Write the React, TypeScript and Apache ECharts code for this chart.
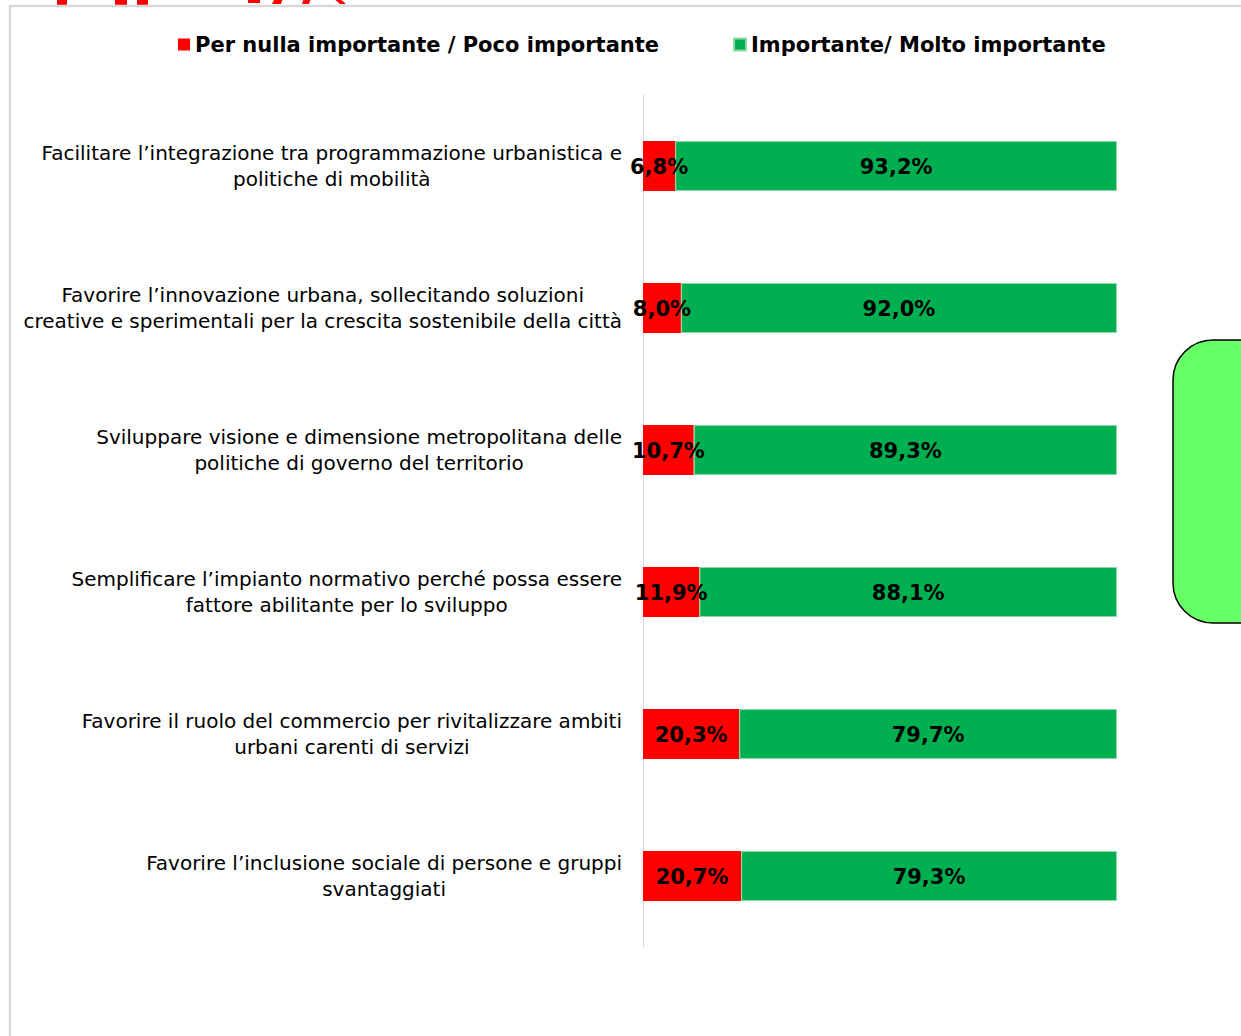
import React, { useEffect, useRef } from "react";
import * as echarts from "echarts";

const categories = [
  "Facilitare l’integrazione tra programmazione urbanistica e\npolitiche di mobilità",
  "Favorire l’innovazione urbana, sollecitando soluzioni\ncreative e sperimentali per la crescita sostenibile della città",
  "Sviluppare visione e dimensione metropolitana delle\npolitiche di governo del territorio",
  "Semplificare l’impianto normativo perché possa essere\nfattore abilitante per lo sviluppo",
  "Favorire il ruolo del commercio per rivitalizzare ambiti\nurbani carenti di servizi",
  "Favorire l’inclusione sociale di persone e gruppi\nsvantaggiati",
];
const seriesNames = ["Per nulla importante / Poco importante", "Importante/ Molto importante"];
const lowValues = [6.8, 8.0, 10.7, 11.9, 20.3, 20.7];
const highValues = [93.2, 92.0, 89.3, 88.1, 79.7, 79.3];
const colors = ["#ff0000", "#00b050"];

const FONT = "DejaVu Sans, Liberation Sans, Arial, sans-serif";

export default function App() {
  const ref = useRef<HTMLDivElement>(null);
  useEffect(() => {
    if (!ref.current) return;
    const chart = echarts.init(ref.current, null, { renderer: "svg" });
    const fmt = (p: any) => p.value.toFixed(1).replace(".", ",") + "%";
    const labelStyle = {
      show: true,
      position: "inside",
      offset: [0, 1],
      formatter: fmt,
      color: "#000",
      fontSize: 21,
      fontWeight: "bold",
      fontFamily: FONT,
    };
    chart.setOption({
      animation: false,
      backgroundColor: "#ffffff",
      textStyle: { fontFamily: FONT },
      legend: {
        top: 29,
        left: 173,
        itemWidth: 12,
        itemHeight: 12,
        itemGap: 74,
        icon: "rect",
        data: seriesNames,
        textStyle: { fontSize: 21, fontWeight: "bold", color: "#000", fontFamily: FONT },
      },
      grid: { left: 643, right: 124, top: 95, bottom: 89, containLabel: false },
      xAxis: {
        type: "value",
        min: 0,
        max: 100,
        show: false,
      },
      yAxis: {
        type: "category",
        inverse: true,
        data: categories,
        axisLine: { show: true, lineStyle: { color: "#d9d9d9", width: 1 } },
        axisTick: { show: false },
        axisLabel: {
          margin: 21,
          align: "right",
          formatter: (v: string) => v.split("\n").map((l) => "{c|" + l + "}").join("\n"),
          rich: {
            c: { align: "center", fontSize: 20, color: "#000", lineHeight: 26, fontFamily: FONT },
          },
        },
      },
      series: [
        {
          name: seriesNames[0],
          type: "bar",
          stack: "s",
          barWidth: 50,
          data: lowValues,
          itemStyle: { color: colors[0] },
          label: labelStyle,
        },
        {
          name: seriesNames[1],
          type: "bar",
          stack: "s",
          barWidth: 50,
          data: highValues,
          itemStyle: { color: colors[1], borderColor: "#8fd9a8", borderWidth: 1 },
          label: labelStyle,
        },
      ],
      graphic: [
        { type: "rect", shape: { x: 57, y: -2, width: 10, height: 7 }, style: { fill: "#ff0000" } },
        { type: "rect", shape: { x: 115, y: -2, width: 12, height: 7 }, style: { fill: "#ff0000" } },
        { type: "rect", shape: { x: 137, y: -2, width: 11, height: 7 }, style: { fill: "#ff0000" } },
        { type: "rect", shape: { x: 248, y: -2, width: 12, height: 5 }, style: { fill: "#ff0000" } },
        { type: "polygon", shape: { points: [[275, -2], [283, -2], [281, 4], [272, 4]] }, style: { fill: "#ff0000" } },
        { type: "polygon", shape: { points: [[304, -2], [311, -2], [309, 4], [302, 4]] }, style: { fill: "#ff0000" } },
        { type: "polygon", shape: { points: [[333, -2], [339, -2], [346, 4], [340, 4]] }, style: { fill: "#ff0000" } },
        {
          type: "rect",
          shape: { x: 10, y: 6, width: 1300, height: 1100 },
          style: { fill: "none", stroke: "#d9d9d9", lineWidth: 2.5 },
        },
        {
          type: "rect",
          shape: { x: 1173, y: 340, width: 140, height: 283, r: 40 },
          style: { fill: "#66ff66", stroke: "#000", lineWidth: 1.5 },
        },
      ],
    });
    return () => chart.dispose();
  }, []);
  return (
    <div
      ref={ref}
      style={{ position: "fixed", left: 0, top: 0, width: 1241, height: 1036, background: "#fff" }}
    />
  );
}
